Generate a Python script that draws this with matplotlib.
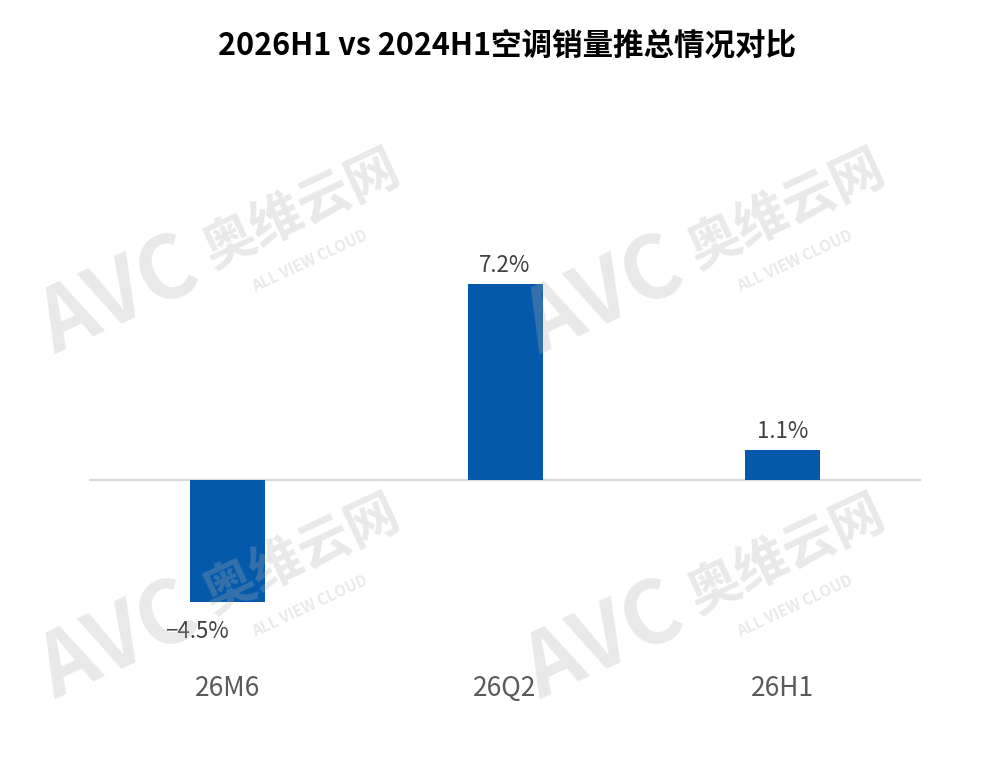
import matplotlib.pyplot as plt

plt.rcParams['font.family'] = ['Noto Sans CJK SC', 'DejaVu Sans']

categories = ["26M6", "26Q2", "26H1"]
values = [-4.5, 7.2, 1.1]
value_labels = ["\u22124.5%", "7.2%", "1.1%"]
title = "2026H1 vs 2024H1空调销量推总情况对比"

bar_color = "#0459AB"

fig = plt.figure(figsize=(10, 7.62), dpi=100)
ax = fig.add_axes([0.0888, 0.156, 0.8325, 0.571])

x = range(len(categories))
ax.bar(x, values, width=0.27, color=bar_color, zorder=2)
ax.axhline(0, color="#D9D9D9", linewidth=1.5, zorder=1)

for xi, v, lab in zip(x, values, value_labels):
    if v >= 0:
        ax.annotate(lab, (xi, v), xytext=(0, 5), textcoords="offset points",
                    ha="center", va="bottom", fontsize=16, color="#404040")
    else:
        ax.annotate(lab, (xi, v), xytext=(-22, -13), textcoords="offset points",
                    ha="center", va="top", fontsize=16, color="#404040")

ax.set_xlim(-0.5, 2.5)
ax.set_ylim(-6, 10)
ax.set_xticks(list(x))
ax.set_xticklabels(categories, fontsize=19, color="#595959")
ax.tick_params(axis="x", length=0, pad=23)
ax.set_yticks([])
for s in ax.spines.values():
    s.set_visible(False)

fig.text(0.507, 0.94, title, ha="center", va="center", fontsize=22,
         fontweight="bold", color="black")

# watermarks
wm = dict(color="#B0B0B0", alpha=0.28, rotation=25, rotation_mode="anchor",
          ha="left", va="baseline", zorder=10)
for dx, dy in [(0, 0), (485, 0), (0, 345), (485, 345)]:
    fig.text((55 + dx) / 1000, 1 - (355 + dy) / 762, "AVC", fontsize=62,
             fontweight="bold", style="italic", **wm)
    fig.text((212 + dx) / 1000, 1 - (268 + dy) / 762, "奥维云网", fontsize=38,
             fontweight="bold", **wm)
    fig.text((255 + dx) / 1000, 1 - (292 + dy) / 762, "ALL VIEW CLOUD", fontsize=11,
             fontweight="bold", **wm)

fig.savefig("out.png", dpi=100)
